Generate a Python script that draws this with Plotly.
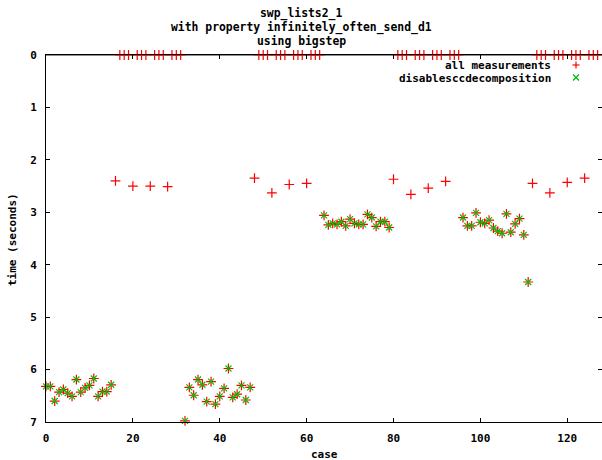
import plotly.graph_objects as go

# ---- data ----
cases = list(range(128))

cluster_a = [6.32, 6.32, 6.60, 6.43, 6.38, 6.45, 6.51, 6.19, 6.43, 6.35, 6.30, 6.17, 6.51, 6.42, 6.42, 6.29]   # cases 0-15
band_a    = [2.40, 0, 0, 0, 2.50, 0, 0, 0, 2.50, 0, 0, 0, 2.51, 0, 0, 0]                                        # cases 16-31
cluster_b = [6.98, 6.34, 6.49, 6.19, 6.29, 6.61, 6.23, 6.66, 6.51, 6.36, 5.98, 6.53, 6.47, 6.30, 6.58, 6.34]   # cases 32-47
band_b    = [2.35, 0, 0, 0, 2.63, 0, 0, 0, 2.47, 0, 0, 0, 2.45, 0, 0, 0]                                        # cases 48-63
cluster_c = [3.06, 3.24, 3.21, 3.23, 3.18, 3.26, 3.13, 3.21, 3.23, 3.23, 3.04, 3.10, 3.27, 3.18, 3.18, 3.29]   # cases 64-79
band_c    = [2.37, 0, 0, 0, 2.66, 0, 0, 0, 2.54, 0, 0, 0, 2.41, 0, 0, 0]                                        # cases 80-95
cluster_d = [3.10, 3.26, 3.26, 3.01, 3.19, 3.21, 3.15, 3.30, 3.36, 3.40, 3.03, 3.38, 3.22, 3.12, 3.43, 4.33]   # cases 96-111
band_d    = [2.45, 0, 0, 0, 2.63, 0, 0, 0, 2.43, 0, 0, 0, 2.35, 0, 0, 0]                                        # cases 112-127

all_times = cluster_a + band_a + cluster_b + band_b + cluster_c + band_c + cluster_d + band_d

disable_cases = list(range(0, 16)) + list(range(32, 48)) + list(range(64, 80)) + list(range(96, 112))
disable_times = cluster_a + cluster_b + cluster_c + cluster_d

x_ticks = [0, 20, 40, 60, 80, 100, 120]
y_ticks = [0, 1, 2, 3, 4, 5, 6, 7]

FONT = "DejaVu Sans Mono"

fig = go.Figure()
fig.add_trace(go.Scatter(
    x=cases, y=all_times, mode="markers", name="all measurements", cliponaxis=False,
    marker=dict(symbol="cross-thin", size=7, line=dict(color="#ff0000", width=1.2)),
    showlegend=False))
fig.add_trace(go.Scatter(
    x=disable_cases, y=disable_times, mode="markers", name="disablesccdecomposition", cliponaxis=False,
    marker=dict(symbol="x-thin", size=6, line=dict(color="#00c000", width=1.2)),
    showlegend=False))

L, R, T, B = 46, 0, 55, 38
W, H = 602, 460
pw, ph = W - L - R, H - T - B

def px(xp):
    return (xp - L) / pw

def py(yp):
    return (H - B - yp) / ph

fig.update_layout(
    width=W, height=H,
    margin=dict(l=L, r=R, t=T, b=B, autoexpand=False),
    paper_bgcolor="white", plot_bgcolor="white",
    font=dict(family=FONT, size=11, color="black"),
)
fig.update_xaxes(
    range=[0, 128], tickvals=x_ticks, ticks="inside", ticklen=4, tickcolor="black",
    showline=True, linecolor="black", linewidth=1, mirror="ticks",
    showgrid=False, zeroline=False, automargin=False,
    tickfont=dict(family=FONT, size=11, weight="bold"), ticklabelstandoff=6,
)
fig.update_yaxes(
    range=[7, 0], tickvals=y_ticks, ticks="inside", ticklen=4, tickcolor="black",
    showline=True, linecolor="black", linewidth=1, mirror="ticks",
    showgrid=False, zeroline=False, automargin=False,
    tickfont=dict(family=FONT, size=11, weight="bold"), ticklabelstandoff=6,
)

# gray top border
fig.add_shape(type="line", xref="paper", yref="paper", x0=0, x1=1, y0=1, y1=1,
              line=dict(color="#8c8c8c", width=2), layer="below")

# axis titles
fig.add_annotation(text="case", xref="paper", yref="paper", x=px(324), y=py(454),
                   xanchor="center", yanchor="middle", showarrow=False,
                   font=dict(family=FONT, size=11, weight="bold"))
fig.add_annotation(text="time (seconds)", xref="paper", yref="paper", x=px(12), y=py(240),
                   xanchor="center", yanchor="middle", showarrow=False, textangle=-90,
                   font=dict(family=FONT, size=11, weight="bold"))

# titles
for text, yp in [("swp_lists2_1", 13.5), ("with property infinitely_often_send_d1", 27.5), ("using bigstep", 40.5)]:
    fig.add_annotation(text=text, xref="paper", yref="paper", x=px(301), y=py(yp),
                       xanchor="center", yanchor="middle", showarrow=False,
                       font=dict(family=FONT, size=11.4, weight="bold"))

# key
for text, yp in [("all measurements", 65.5), ("disablesccdecomposition", 78)]:
    fig.add_annotation(text=text, xref="paper", yref="paper", x=px(553), y=py(yp),
                       xanchor="right", yanchor="middle", showarrow=False,
                       font=dict(family=FONT, size=11, weight="bold"))
cx = px(576)
dx = 3.5 / pw
dy = 3.5 / ph
cy1 = py(65)
fig.add_shape(type="line", xref="paper", yref="paper", x0=cx - dx, x1=cx + dx, y0=cy1, y1=cy1,
              line=dict(color="#ff0000", width=1.2))
fig.add_shape(type="line", xref="paper", yref="paper", x0=cx, x1=cx, y0=cy1 - dy, y1=cy1 + dy,
              line=dict(color="#ff0000", width=1.2))
cy2 = py(77.5)
dx2 = 3 / pw
dy2 = 3 / ph
fig.add_shape(type="line", xref="paper", yref="paper", x0=cx - dx2, x1=cx + dx2, y0=cy2 - dy2, y1=cy2 + dy2,
              line=dict(color="#00c000", width=1.2))
fig.add_shape(type="line", xref="paper", yref="paper", x0=cx - dx2, x1=cx + dx2, y0=cy2 + dy2, y1=cy2 - dy2,
              line=dict(color="#00c000", width=1.2))

fig.write_html("out.html", config={"displayModeBar": False},
               post_script="document.body.style.margin='0';document.body.style.overflow='hidden';")
